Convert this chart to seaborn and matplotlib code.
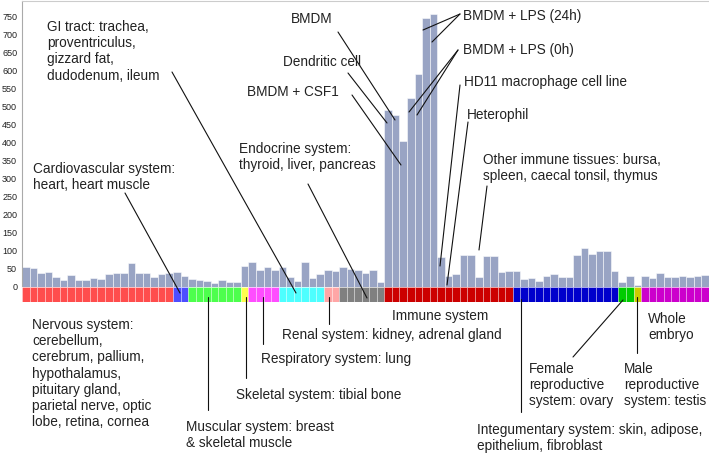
import matplotlib
matplotlib.use('Agg')
import matplotlib.pyplot as plt
import seaborn as sns
import pandas as pd
import numpy as np

# tissue groups, in plot order
systems = ['Nervous', 'Cardiovascular', 'Muscular', 'Skeletal', 'Respiratory', 'GI tract',
           'Renal', 'Endocrine', 'Immune', 'Integumentary', 'Female reproductive',
           'Male reproductive', 'Whole embryo']
counts = [20, 2, 7, 1, 4, 6, 2, 6, 17, 14, 2, 1, 9]
colors = ['#FF4D4D', '#4D4DFF', '#4DFF4D', '#FFFF4D', '#FF4DFF', '#4DFFFF',
          '#FFA6A6', '#808080', '#CC0000', '#0000CC', '#00CC00', '#CCCC00', '#CC00CC']

# expression per sample
nervous = [55, 53, 40, 42, 27, 19, 33, 19, 19, 25, 23, 36, 40, 38, 67, 38, 38, 27, 35, 40]
cardio = [43, 31]
muscular = [21, 19, 18, 12, 19, 15, 15]
skeletal = [57]
respiratory = [70, 47, 56, 47]
gi_tract = [56, 27, 16, 69, 26, 35]
renal = [47, 44]
endocrine = [55, 51, 48, 38, 47, 14]
immune = [492, 477, 406, 524, 590, 746, 757, 84, 31, 37, 88, 88, 27, 86, 86, 43, 45]
integument = [45, 23, 26, 18, 31, 35, 29, 29, 88, 109, 93, 101, 101, 45]
female = [13, 30]
male = [5]
embryo = [30, 24, 39, 28, 28, 31, 28, 31, 34]

expression = (nervous + cardio + muscular + skeletal + respiratory + gi_tract + renal
              + endocrine + immune + integument + female + male + embryo)

W, H = 709, 453

sns.set_style('white')
plt.rcParams['font.family'] = ['Liberation Sans', 'DejaVu Sans']

df = pd.DataFrame({'sample': np.arange(len(expression)),
                   'value': expression,
                   'system': np.repeat(systems, counts)})
df['strip'] = 1


def box(x0, y0, x1, y1):
    # pixel box (top-left origin) -> figure fraction rect
    return [x0 / W, 1 - y1 / H, (x1 - x0) / W, (y1 - y0) / H]


def fpt(x, y):
    return x / W, 1 - y / H


fig = plt.figure(figsize=(W / 100, H / 100), dpi=100)

# main bars
ax = fig.add_axes(box(22, 1, 709, 287))
sns.barplot(data=df, x='sample', y='value', color='#99A4C4', saturation=1, width=1,
            edgecolor=(1, 1, 1, 0.6), linewidth=0.6, errorbar=None, ax=ax)
ax.set_xlim(-0.5, len(expression) - 0.5)
ax.set_ylim(0, 794)
ax.set_yticks(range(0, 800, 50))
ax.set_xticks([])
ax.set_xlabel('')
ax.set_ylabel('')
ax.tick_params(axis='y', labelsize=6.5, length=0, pad=3.5, labelcolor='#222222')
ax.spines['right'].set_visible(False)
ax.spines['bottom'].set_visible(False)
ax.spines['left'].set_color('#AAAAAA')
ax.spines['top'].set_color('#CCCCCC')

# coloured tissue strip
sax = fig.add_axes(box(22, 287, 709, 302))
sns.barplot(data=df, x='sample', y='strip', hue='system', hue_order=systems,
            palette=dict(zip(systems, colors)), saturation=1, width=1, dodge=False,
            legend=False, edgecolor=(1, 1, 1, 0.35), linewidth=0.6, errorbar=None, ax=sax)
sax.set_xlim(-0.5, len(expression) - 0.5)
sax.set_ylim(0, 1)
sax.set_yticks([])
sax.set_xticks(np.arange(len(expression) + 1) - 0.5)
sax.set_xticklabels([])
sax.set_xlabel('')
sax.set_ylabel('')
sax.tick_params(axis='x', length=2.5, color='#BBBBBB', width=0.8)
for s in sax.spines.values():
    s.set_visible(False)

# labels (pixel positions, cap top)
labels = [
    ('GI tract: trachea,\nproventriculus,\ngizzard fat,\ndudodenum, ileum', 47, 20),
    ('Cardiovascular system:\nheart, heart muscle', 33, 162),
    ('BMDM', 291, 12),
    ('Dendritic cell', 283, 55),
    ('BMDM + CSF1', 247, 85),
    ('Endocrine system:\nthyroid, liver, pancreas', 239, 142),
    ('BMDM + LPS (24h)', 463, 9),
    ('BMDM + LPS (0h)', 463, 43),
    ('HD11 macrophage cell line', 464, 75),
    ('Heterophil', 467, 108),
    ('Other immune tissues: bursa,\nspleen, caecal tonsil, thymus', 483, 153),
    ('Immune system', 392, 309),
    ('Renal system: kidney, adrenal gland', 282, 328),
    ('Respiratory system: lung', 261, 352),
    ('Skeletal system: tibial bone', 236, 388),
    ('Muscular system: breast\n& skeletal muscle', 186, 420),
    ('Nervous system:\ncerebellum,\ncerebrum, pallium,\nhypothalamus,\npituitary gland,\n'
     'parietal nerve, optic\nlobe, retina, cornea', 32, 318),
    ('Integumentary system: skin, adipose,\nepithelium, fibroblast', 477, 423),
    ('Female\nreproductive\nsystem: ovary', 529, 362),
    ('Male\nreproductive\nsystem: testis', 624, 362),
    ('Whole\nembryo', 648, 312),
]
for txt, x, y in labels:
    fig.text(*fpt(x, y), txt, ha='left', va='top', fontsize=9.8, color='#222222',
             linespacing=1.2)

leaders = [
    ((172, 72), (296, 293)),
    ((125, 193), (180, 293)),
    ((338, 32), (395, 120)),
    ((348, 73), (387, 123)),
    ((352, 95), (401, 165)),
    ((308, 184), (367, 298)),
    ((460, 14), (423, 30)),
    ((460, 14), (432, 42)),
    ((458, 50), (409, 112)),
    ((458, 50), (417, 115)),
    ((460, 85), (440, 266)),
    ((468, 122), (447, 285)),
    ((487, 186), (479, 250)),
    ((329, 297), (329, 324)),
    ((263, 297), (263, 344)),
    ((246, 297), (246, 378)),
    ((208, 297), (208, 410)),
    ((521, 299), (521, 412)),
    ((573, 357), (623, 300)),
    ((637, 297), (637, 353)),
]
for (x0, y0), (x1, y1) in leaders:
    a, b = fpt(x0, y0)
    c, d = fpt(x1, y1)
    fig.add_artist(plt.Line2D([a, c], [b, d], transform=fig.transFigure,
                              color='#111111', lw=0.8))

fig.savefig('out.png', dpi=100)
